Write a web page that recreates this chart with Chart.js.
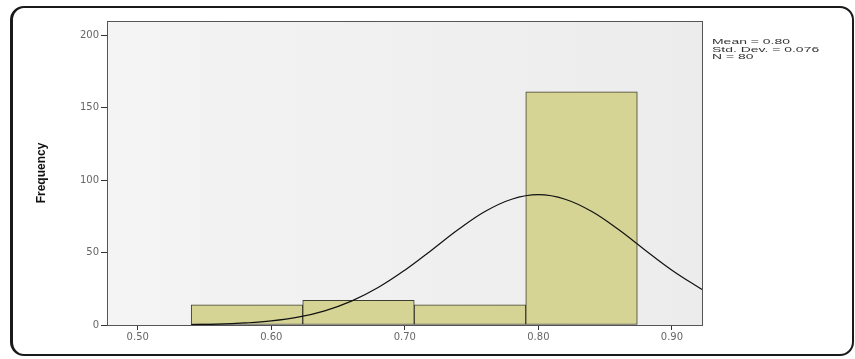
<!DOCTYPE html>
<html>
<head>
<meta charset="utf-8">
<script src="https://cdn.jsdelivr.net/npm/chart.js@4/dist/chart.umd.min.js"></script>
<style>
  body { margin:0; background:#fff; width:855px; height:359px; overflow:hidden; position:relative; }
  #frame { position:absolute; left:10px; top:6px; width:839px; height:346px; border:2px solid #1a1a1a; border-left-width:3px; border-radius:14px; }
  #c { position:absolute; left:0; top:0; }
</style>
</head>
<body>
<div id="frame"></div>
<canvas id="c" width="855" height="359"></canvas>
<script>
// --- Dane histogramu ---
const binCenters = [0.5818, 0.6653, 0.7488, 0.8323];
const frequencies = [14, 17, 14, 161];

// krzywa normalna
const curveX = [0.54, 0.56, 0.58, 0.60, 0.62, 0.64, 0.66, 0.68, 0.70, 0.72, 0.74, 0.76, 0.78, 0.80, 0.82, 0.84, 0.86, 0.88, 0.90, 0.9225];
const curveY = [0.3, 0.6, 1.4, 2.8, 5.4, 9.8, 16.5, 25.9, 37.9, 51.7, 65.9, 78.4, 86.9, 90, 86.9, 78.4, 65.9, 51.7, 37.9, 24.5];

const xTicks = [0.50, 0.60, 0.70, 0.80, 0.90];
const yTicks = [0, 50, 100, 150, 200];
const statsText = ['Mean = 0.80', 'Std. Dev. = 0.076', 'N = 80'];

// --- Tlo obszaru wykresu i ramka ---
const plotBg = {
  id: 'plotBg',
  beforeDatasetsDraw(chart){
    const {ctx, chartArea:a} = chart;
    const g = ctx.createLinearGradient(a.left, 0, a.right, 0);
    g.addColorStop(0, '#f4f4f4'); g.addColorStop(1, '#ececec');
    ctx.save(); ctx.fillStyle = g; ctx.fillRect(a.left, a.top, a.right-a.left, a.bottom-a.top); ctx.restore();
  },
  afterDraw(chart){
    const {ctx, chartArea:a} = chart;
    ctx.save();
    ctx.strokeStyle = '#555'; ctx.lineWidth = 1;
    ctx.strokeRect(a.left+0.5, a.top+0.5, a.right-a.left, a.bottom-a.top);
    // statystyki
    ctx.fillStyle = '#333'; ctx.font = '9px "Liberation Sans", Arial';
    ctx.textBaseline = 'alphabetic';
    statsText.forEach((t,i)=>{
      ctx.save(); ctx.translate(712, 44 + i*7.5); ctx.scale(1.55, 0.85); ctx.fillText(t, 0, 0); ctx.restore();
    });
    ctx.restore();
  }
};

new Chart(document.getElementById('c'), {
  type: 'bar',
  data: {
    datasets: [
      {
        type: 'line', order: 0,
        data: curveX.map((x,i)=>({x, y: curveY[i]})),
        borderColor: '#111', borderWidth: 1.2, pointRadius: 0, tension: 0.4, fill: false
      },
      {
        type: 'bar', order: 1,
        data: binCenters.map((x,i)=>({x, y: frequencies[i]})),
        backgroundColor: '#d6d495', borderColor: '#3e3e30', borderWidth: 1,
        barPercentage: 1, categoryPercentage: 1, borderSkipped: false
      }
    ]
  },
  options: {
    responsive: false, animation: false,
    layout: { padding: { left: 30, top: 21, right: 153, bottom: 0 } },
    plugins: { legend: { display: false }, tooltip: { enabled: false } },
    scales: {
      x: {
        type: 'linear', min: 0.477, max: 0.9225, offset: false,
        afterBuildTicks: s => { s.ticks = xTicks.map(v=>({value:v})); },
        afterFit: s => { s.height = 34; },
        ticks: { color: '#666', font: { family: 'DejaVu Sans', size: 10 }, padding: 1,
                 callback: v => v.toFixed(2) },
        grid: { offset: false, drawOnChartArea: false, tickLength: 5, color: '#333' },
        border: { color: '#333' }
      },
      y: {
        min: 0, max: 210,
        afterBuildTicks: s => { s.ticks = yTicks.map(v=>({value:v})); },
        afterFit: s => { s.width = 77; },
        ticks: { color: '#666', font: { family: 'DejaVu Sans', size: 10 }, padding: 2 },
        grid: { drawOnChartArea: false, tickLength: 6, color: '#333' },
        border: { color: '#333' },
        title: { display: true, text: 'Frequency', color: '#111',
                 font: { family: '"Liberation Sans Narrow", "Liberation Sans"', weight: 'bold', size: 12 }, padding: { top: 4, bottom: 0 } }
      }
    }
  },
  plugins: [plotBg]
});
</script>
</body>
</html>
